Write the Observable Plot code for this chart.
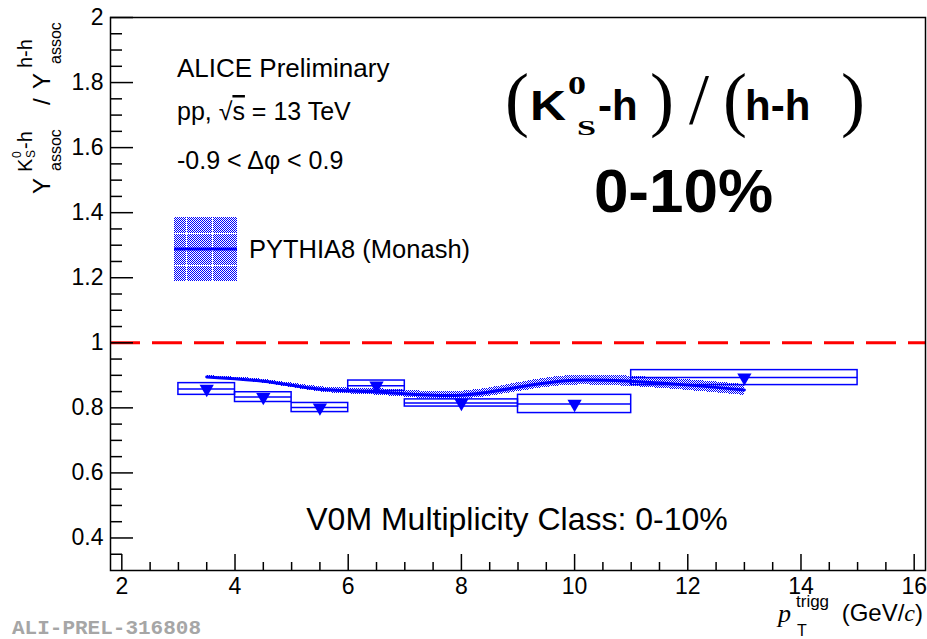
<!DOCTYPE html>
<html>
<head>
<meta charset="utf-8">
<script src="https://cdn.jsdelivr.net/npm/d3@7"></script>
<script src="https://cdn.jsdelivr.net/npm/@observablehq/plot@0.6"></script>
<style>
  html, body { margin: 0; padding: 0; background: #fff; }
  svg { display: block; }
</style>
</head>
<body>
<div id="chart"></div>
<script>
// Measured K0S-h / h-h associated yield ratio, V0M 0-10%
const ptTrigg   = [3.5, 4.5, 5.5, 6.5, 8, 10, 13];
const ptLow     = [3, 4, 5, 6, 7, 9, 11];
const ptHigh    = [4, 5, 6, 7, 9, 11, 15];
const ratio     = [0.858, 0.833, 0.801, 0.868, 0.815, 0.812, 0.893];
const ratioSys  = [0.018, 0.015, 0.014, 0.016, 0.011, 0.028, 0.023];

// PYTHIA8 (Monash) prediction with its uncertainty band
const pythiaPt    = [3.5, 4.5, 5.5, 6.5, 8, 10, 13];
const pythiaRatio = [0.895, 0.882, 0.857, 0.849, 0.839, 0.885, 0.855];
const pythiaErr   = [0.004, 0.006, 0.008, 0.010, 0.012, 0.015, 0.017];

// Axis ticks
const xTicks = [2, 4, 6, 8, 10, 12, 14, 16];
const yTicks = [0.4, 0.6, 0.8, 1, 1.2, 1.4, 1.6, 1.8, 2];
const xMinor = d3.range(2.5, 16, 0.5).filter(v => Math.abs(v / 2 - Math.round(v / 2)) > 1e-6);
const yMinor = d3.range(0.35, 2, 0.05).map(v => +v.toFixed(2)).filter(v => Math.abs(v / 0.2 - Math.round(v / 0.2)) > 1e-6);

const points = ptTrigg.map((x, i) => ({x, lo: ptLow[i], hi: ptHigh[i], y: ratio[i], sys: ratioSys[i]}));
const pythia = pythiaPt.map((x, i) => ({x, y: pythiaRatio[i], e: pythiaErr[i]}));

const W = 927, H = 639;
const mL = 110, mR = 2, mT = 17, mB = 69;
const plotW = W - mL - mR, plotH = H - mT - mB;
const blue = "#0000ff";
const sans = "'Liberation Sans', Arial, Helvetica, sans-serif";
const serif = "'Liberation Serif', 'Times New Roman', serif";

const chart = Plot.plot({
  width: W, height: H,
  marginLeft: mL, marginRight: mR, marginTop: mT, marginBottom: mB,
  x: {domain: [1.8, 16.2]},
  y: {domain: [0.3, 2]},
  style: {fontFamily: sans, background: "white", color: "black", overflow: "visible"},
  marks: [
    Plot.areaY(pythia, {x: "x", y1: d => d.y - d.e, y2: d => d.y + d.e, fill: "url(#dots)", curve: "catmull-rom"}),
    Plot.lineY(pythia, {x: "x", y: "y", stroke: blue, strokeWidth: 3, curve: "catmull-rom"}),
    Plot.ruleY([1], {stroke: "#ff0000", strokeWidth: 3, strokeDasharray: "30,12"}),
    Plot.rect(points, {x1: "lo", x2: "hi", y1: d => d.y - d.sys, y2: d => d.y + d.sys, fill: "none", stroke: blue, strokeWidth: 1.5}),
    Plot.ruleY(points, {y: "y", x1: "lo", x2: "hi", stroke: blue, strokeWidth: 1.5}),
    Plot.dot(points, {x: "x", y: "y", symbol: "triangle", rotate: 180, r: 5.3, fill: blue, stroke: "none"}),
    Plot.tickX(xTicks, {x: d => d, insetTop: plotH - 16, strokeWidth: 1.5}),
    Plot.tickX(xMinor, {x: d => d, insetTop: plotH - 8, strokeWidth: 1.5}),
    Plot.tickY(yTicks, {y: d => d, insetRight: plotW - 23, strokeWidth: 1.5}),
    Plot.tickY(yMinor, {y: d => d, insetRight: plotW - 12, strokeWidth: 1.5}),
    Plot.axisX(xTicks, {tickSize: 0, tickPadding: 7, fontSize: 23, label: null, tickFormat: d => String(d)}),
    Plot.axisY(yTicks, {tickSize: 0, tickPadding: 7, fontSize: 23, label: null, tickFormat: d => String(+d.toFixed(1))}),
    Plot.frame({stroke: "black", strokeWidth: 1.5})
  ]
});

document.getElementById("chart").appendChild(chart);
const svg = d3.select(chart);

// Dotted fill shared by the PYTHIA band and its legend entry
const defs = svg.insert("defs", ":first-child");
const pat = defs.append("pattern").attr("id", "dots").attr("patternUnits", "userSpaceOnUse")
  .attr("width", 2).attr("height", 2);
pat.append("rect").attr("x", 0).attr("y", 0).attr("width", 1).attr("height", 1).attr("fill", blue);
pat.append("rect").attr("x", 1).attr("y", 1).attr("width", 1).attr("height", 1).attr("fill", blue);
svg.selectAll("[fill='url(#dots)']").attr("shape-rendering", "crispEdges");

const ann = svg.append("g").attr("font-family", sans).attr("fill", "black").attr("text-anchor", "start");

// Header lines
ann.append("text").attr("x", 177).attr("y", 77).attr("font-size", 26).text("ALICE Preliminary");
const pp = ann.append("text").attr("x", 177).attr("y", 120).attr("font-size", 25);
pp.append("tspan").text("pp, √");
pp.append("tspan").attr("text-decoration", "overline").text("s");
pp.append("tspan").text(" = 13 TeV");
ann.append("text").attr("x", 177).attr("y", 169).attr("font-size", 25).text("-0.9 < Δφ < 0.9");

// Legend
ann.append("rect").attr("x", 174).attr("y", 217).attr("width", 63).attr("height", 64)
  .attr("fill", "url(#dots)").attr("shape-rendering", "crispEdges");
[186, 212].forEach(x => ann.append("line").attr("x1", x).attr("x2", x).attr("y1", 217).attr("y2", 281)
  .attr("stroke", "white").attr("stroke-width", 1).attr("shape-rendering", "crispEdges"));
[233, 265].forEach(y => ann.append("line").attr("x1", 174).attr("x2", 237).attr("y1", y).attr("y2", y)
  .attr("stroke", "white").attr("stroke-width", 1).attr("shape-rendering", "crispEdges"));
ann.append("line").attr("x1", 174).attr("x2", 237).attr("y1", 249).attr("y2", 249)
  .attr("stroke", blue).attr("stroke-width", 3);
ann.append("text").attr("x", 249).attr("y", 258).attr("font-size", 25.5).text("PYTHIA8 (Monash)");

// Big title: (K0S-h)/(h-h)
[["(", 505], [")", 650], ["/", 689], ["(", 723], [")", 841]].forEach(([t, x]) => {
  ann.append("text").attr("x", x).attr("y", 123).attr("font-size", 72).attr("font-family", serif)
    .attr("font-weight", 400).text(t);
});
ann.append("text").attr("x", 530).attr("y", 120).attr("font-size", 42).attr("font-weight", 700)
  .attr("textLength", 36).attr("lengthAdjust", "spacingAndGlyphs").text("K");
ann.append("text").attr("x", 568).attr("y", 94).attr("font-size", 26).attr("font-weight", 700)
  .attr("font-family", serif).attr("textLength", 18).attr("lengthAdjust", "spacingAndGlyphs").text("0");
ann.append("text").attr("x", 577).attr("y", 135).attr("font-size", 20).attr("font-weight", 700)
  .attr("font-family", serif).attr("textLength", 19).attr("lengthAdjust", "spacingAndGlyphs").text("S");
ann.append("text").attr("x", 598).attr("y", 120).attr("font-size", 42).attr("font-weight", 700).text("-h");
ann.append("text").attr("x", 745).attr("y", 120).attr("font-size", 42).attr("font-weight", 700).text("h-h");
ann.append("text").attr("x", 683.5).attr("y", 212).attr("font-size", 62).attr("font-weight", 700)
  .attr("text-anchor", "middle").text("0-10%");

// Multiplicity class
ann.append("text").attr("x", 517).attr("y", 530).attr("font-size", 32).attr("text-anchor", "middle")
  .text("V0M Multiplicity Class: 0-10%");

// Y axis title, rotated, ending at the top of the frame
const yt = ann.append("g").attr("transform", "translate(50,0) rotate(-90)");
yt.append("text").attr("x", -194).attr("y", 0).attr("font-size", 24).text("Y");
yt.append("text").attr("x", -172).attr("y", -18).attr("font-size", 20).text("K");
yt.append("text").attr("x", -158).attr("y", -29).attr("font-size", 12).text("0");
yt.append("text").attr("x", -158).attr("y", -15).attr("font-size", 12).text("S");
yt.append("text").attr("x", -149).attr("y", -18).attr("font-size", 20).text("-h");
yt.append("text").attr("x", -171).attr("y", 11).attr("font-size", 16).text("assoc");
yt.append("text").attr("x", -105).attr("y", 0).attr("font-size", 24).text("/");
yt.append("text").attr("x", -89).attr("y", 0).attr("font-size", 24).text("Y");
yt.append("text").attr("x", -68).attr("y", -18).attr("font-size", 20).text("h-h");
yt.append("text").attr("x", -64).attr("y", 11).attr("font-size", 16).text("assoc");

// X axis title
ann.append("text").attr("x", 778).attr("y", 622).attr("font-size", 26).attr("font-style", "italic")
  .attr("font-family", serif).text("p");
ann.append("text").attr("x", 796).attr("y", 607).attr("font-size", 17).text("trigg");
ann.append("text").attr("x", 797).attr("y", 636).attr("font-size", 16).text("T");
const xt = ann.append("text").attr("x", 923).attr("y", 621).attr("font-size", 24).attr("text-anchor", "end");
xt.append("tspan").text("(GeV/");
xt.append("tspan").attr("font-family", serif).attr("font-style", "italic").text("c");
xt.append("tspan").text(")");

// Preliminary figure tag
ann.append("text").attr("x", 12).attr("y", 634).attr("font-size", 21).attr("font-weight", 700)
  .attr("font-family", "'Liberation Mono', 'Courier New', monospace").attr("fill", "#a6a6a6")
  .text("ALI-PREL-316808");
</script>
</body>
</html>
